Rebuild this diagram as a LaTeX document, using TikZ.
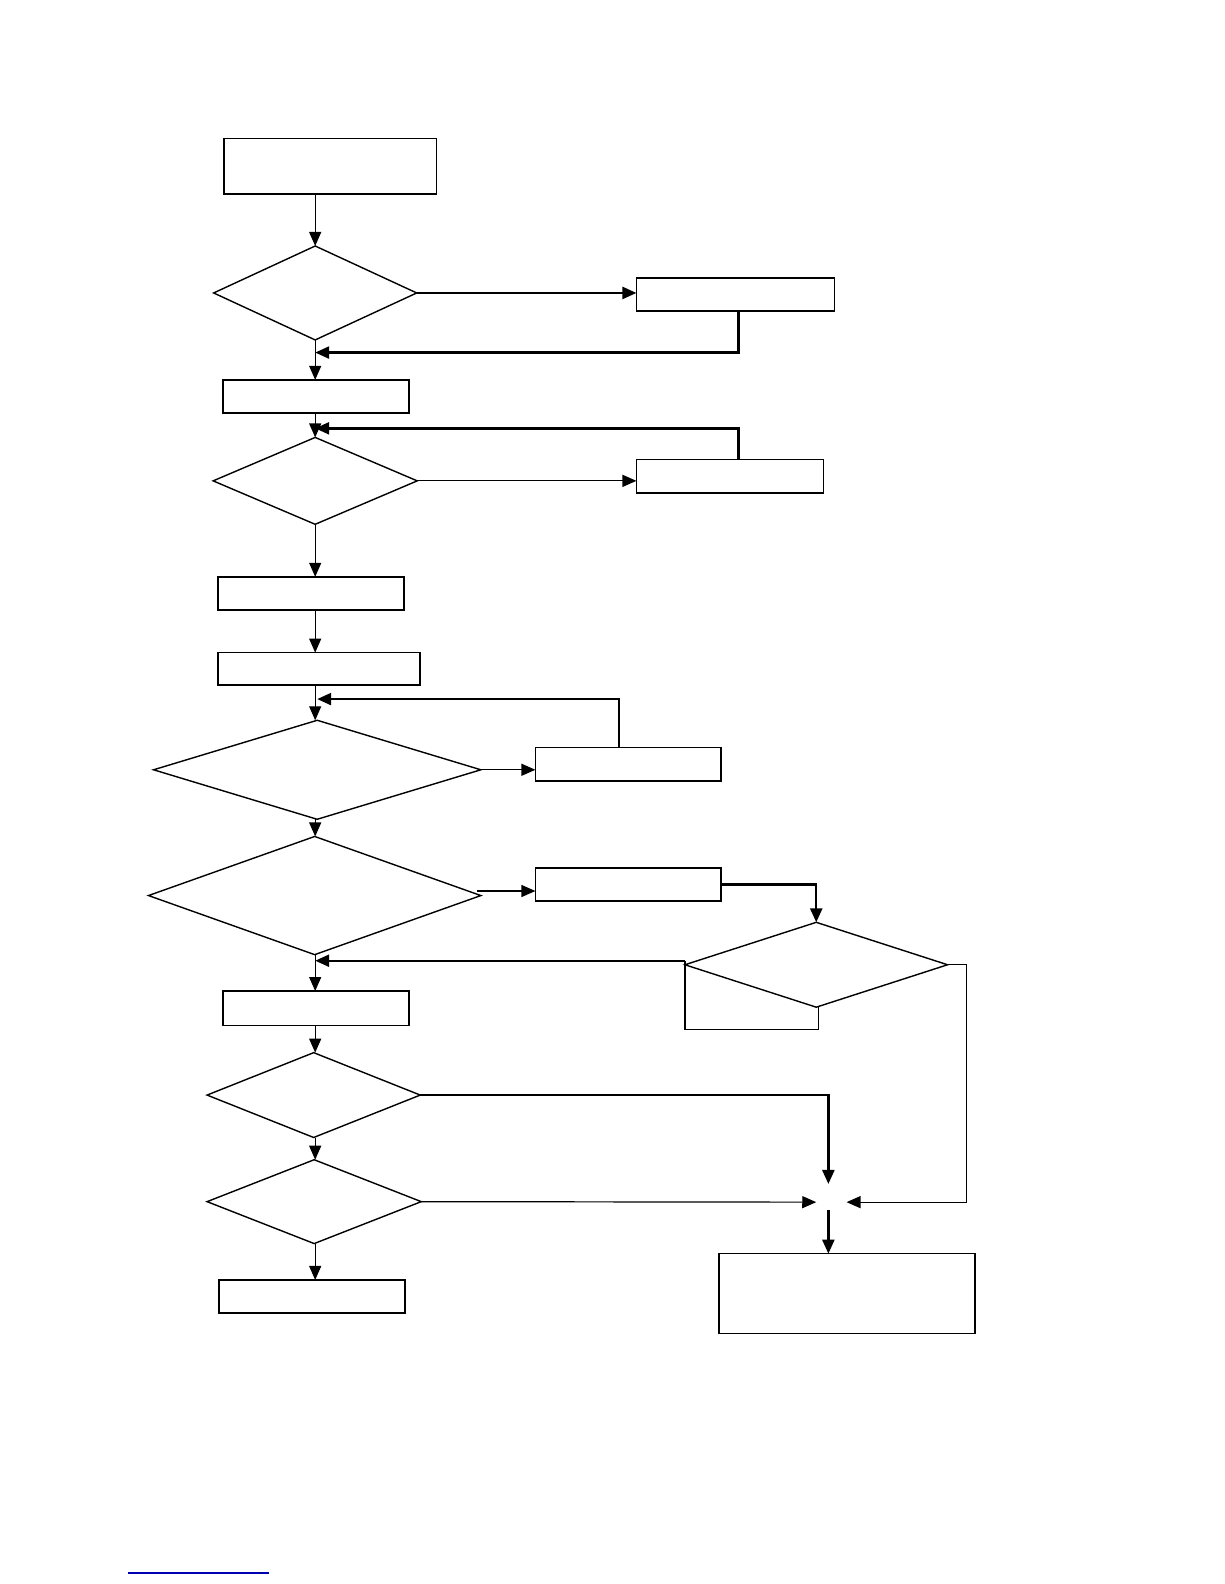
\documentclass[tikz,border=0pt]{standalone}
\usetikzlibrary{arrows.meta,shapes.geometric,calc}
\begin{document}
\begin{tikzpicture}[x=0.505pt,y=-0.505pt,
  box/.style 2 args={draw, line width=0.8pt, minimum width=#1*0.505pt, minimum height=#2*0.505pt, inner sep=0pt, outer sep=0pt},
  dia/.style 2 args={draw, diamond, line width=0.7pt, minimum width=#1*0.505pt, minimum height=#2*0.505pt, inner sep=0pt, outer sep=0pt},
  arr/.style={-{Triangle[length=7pt,width=6pt]}},
  lwa/.style={line width=0.6pt},
  lwb/.style={line width=1.2pt}]
\useasboundingbox (0,0) rectangle (1212,1568);
% nodes
\node[box={210}{55}] (B1) at (327,164.5) {};
\node[dia={201}{93}] (D1) at (312,290) {};
\node[box={196}{33}] (B2) at (728,291.5) {};
\node[box={184}{33}] (B3) at (313,392.5) {};
\node[dia={202}{86}] (D2) at (312,476) {};
\node[box={185}{33}] (B4) at (722.5,471.5) {};
\node[box={184}{33}] (B5) at (308,587.5) {};
\node[box={200}{32}] (B6) at (316,662) {};
\node[dia={324}{98}] (D3) at (314,762) {};
\node[box={184}{33}] (B7) at (622,756.5) {};
\node[dia={329}{117}] (D4) at (311.5,886.5) {};
\node[box={184}{33}] (B8) at (622,875.5) {};
\node[dia={260}{84}] (D5) at (808,955) {};
\node[box={184}{34}] (B9) at (313,998) {};
\node[dia={211}{84}] (D6) at (310.5,1084) {};
\node[dia={212}{83}] (D7) at (311,1189.5) {};
\node[box={253}{79}] (B10) at (838.5,1280.5) {};
\node[box={184}{33}] (B11) at (309,1283.5) {};
% helper coordinates
\coordinate (ax) at (312,0);
\coordinate (j1) at (312,349);
\coordinate (j2) at (312,424);
\coordinate (j3) at (314,692);
\coordinate (p4) at (472,882);
\coordinate (p5) at (678,951);
\coordinate (q1) at (678,1019);
\coordinate (q2) at (810,1019);
\coordinate (jx) at (820,0);
\coordinate (jt) at (820,1172);
\coordinate (jl) at (808,1190);
\coordinate (jr) at (838,1190);
\coordinate (jb) at (820,1198);
\coordinate (rr) at (957,1190);
\coordinate (bl1) at (127,1557);
\coordinate (bl2) at (266,1557);
% connectors
\draw[arr,lwa] (ax |- B1.south) -- (ax |- D1.north);
\draw[arr,lwb] (D1.east) -- (D1.east -| B2.west);
\draw[arr,lwb] ($(B2.south west)!0.515!(B2.south east)$) |- (j1);
\draw[arr,lwa] (ax |- D1.south) -- (ax |- B3.north);
\draw[arr,lwa] (ax |- B3.south) -- (ax |- D2.north);
\draw[arr,lwb] ($(B4.north west)!0.546!(B4.north east)$) |- (j2);
\draw[arr,lwa] (D2.east) -- (D2.east -| B4.west);
\draw[arr,lwa] (ax |- D2.south) -- (ax |- B5.north);
\draw[arr,lwa] (ax |- B5.south) -- (ax |- B6.north);
\draw[arr,lwa] (ax |- B6.south) -- (ax |- D3.north);
\draw[arr,lwa] (D3.east) -- (D3.east -| B7.west);
\draw[arr,lwb] ($(B7.north west)!0.45!(B7.north east)$) |- (j3);
\draw[arr,lwa] (ax |- D3.south) -- (ax |- D4.north);
\draw[arr,lwa] (p4) -- (p4 -| B8.west);
\draw[arr,lwb] (B8.east) -| (D5.north);
\draw[arr,lwb] (p5) -- (p5 -| ax);
\draw[lwa] (p5) -- (q1) -- (q2) -- (D5.south -| q2);
\draw[arr,lwa] (D5.east) -| (rr) -- (jr);
\draw[arr,lwa] (ax |- D4.south) -- (ax |- B9.north);
\draw[arr,lwa] (ax |- B9.south) -- (ax |- D6.north);
\draw[arr,lwb] (D6.east) -| (jt);
\draw[arr,lwa] (ax |- D6.south) -- (ax |- D7.north);
\draw[arr,lwa] (D7.east) -- (jl);
\draw[arr,lwb] (jb) -- (jx |- B10.north);
\draw[arr,lwa] (ax |- D7.south) -- (ax |- B11.north);
\draw[blue!70!black, line width=0.8pt] (bl1) -- (bl2);
\end{tikzpicture}
\end{document}
